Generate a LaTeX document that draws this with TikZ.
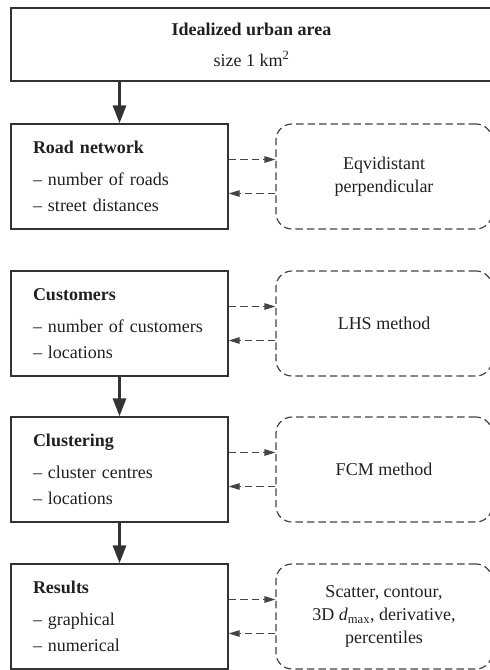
\documentclass[tikz,border=0pt]{standalone}
\usepackage{fontspec}
\setmainfont{Liberation Serif}
\usetikzlibrary{arrows.meta}
\definecolor{ink}{HTML}{231F20}
\definecolor{boxline}{HTML}{333333}
\definecolor{dashline}{HTML}{444444}
\begin{document}
\begin{tikzpicture}[x=1pt,y=-1pt,
  font=\fontsize{18}{26}\selectfont, text=ink,
  headbox/.style={draw=boxline, line width=1.3pt, minimum width=481pt,
    minimum height=73pt, align=center, inner sep=0pt},
  stage/.style={draw=boxline, line width=1.3pt, minimum width=217pt,
    minimum height=105pt, text width=173pt, align=left, inner sep=0pt},
  method/.style={draw=dashline, line width=1.2pt, dash pattern=on 7.5pt off 4pt,
    rounded corners=16pt, minimum width=216pt, minimum height=105pt,
    align=center, inner sep=0pt, font=\fontsize{18}{23}\selectfont},
  flow/.style={draw=boxline, line width=3pt,
    -{Triangle[length=18pt,width=13pt]}},
  link/.style={draw=dashline, line width=1.2pt, dash pattern=on 7.5pt off 4pt,
    -{Triangle[length=11pt,width=6.5pt]}}
]
\useasboundingbox (0,0) rectangle (490,670);

% top box
\node[headbox] (area) at (251.5,44.5)
  {\textbf{Idealized urban area}\\[5pt] size 1 km\textsuperscript{2}};

% stages on the left
\node[stage] (road) at (119.5,176.5)
  {\textbf{Road network}\\[6pt]– number of roads\\– street distances};
\node[stage] (cust) at (119.5,323.5)
  {\textbf{Customers}\\[6pt]– number of customers\\– locations};
\node[stage] (clus) at (119.5,469.5)
  {\textbf{Clustering}\\[6pt]– cluster centres\\– locations};
\node[stage] (res) at (119.5,616.5)
  {\textbf{Results}\\[6pt]– graphical\\– numerical};

% methods on the right
\node[method] (roadm) at (384,176.5) {Eqvidistant\\perpendicular};
\node[method] (custm) at (384,323.5) {LHS method};
\node[method] (clusm) at (384,469.5) {FCM method};
\node[method] (resm) at (384,616.5)
  {Scatter, contour,\\3D \textit{d}\textsubscript{max}, derivative,\\percentiles};

% main flow
\draw[flow] (area.south -| road.north) -- (road.north);
\draw[flow] (cust.south) -- (clus.north);
\draw[flow] (clus.south) -- (res.north);

% exchanges between stages and methods
\foreach \s/\m in {road/roadm, cust/custm, clus/clusm, res/resm}{
  \draw[link] ([yshift=17pt]\s.east) -- ([yshift=17pt]\m.west);
  \draw[link] ([yshift=-17pt]\m.west) -- ([yshift=-17pt]\s.east);
}
\end{tikzpicture}
\end{document}
